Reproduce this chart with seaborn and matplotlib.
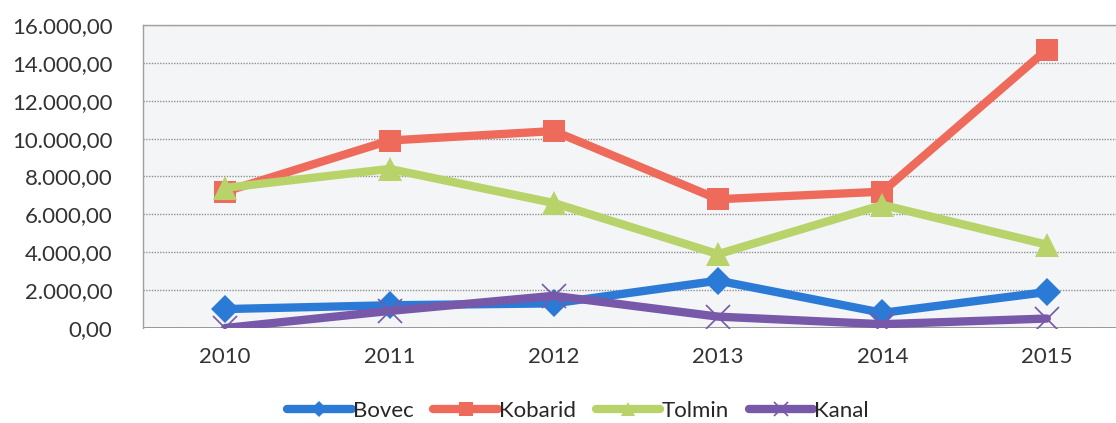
import matplotlib
matplotlib.use("Agg")
import matplotlib.pyplot as plt
import matplotlib.ticker as mticker
import numpy as np
import pandas as pd
import seaborn as sns

years = ["2010", "2011", "2012", "2013", "2014", "2015"]
bovec = [1000, 1200, 1300, 2500, 800, 1900]
kobarid = [7200, 9900, 10400, 6800, 7200, 14700]
tolmin = [7400, 8400, 6600, 3900, 6500, 4400]
kanal = [0, 900, 1700, 600, 200, 500]

series = {"Bovec": bovec, "Kobarid": kobarid, "Tolmin": tolmin, "Kanal": kanal}
colors = {"Bovec": "#2b7bd6", "Kobarid": "#ee6b5c", "Tolmin": "#b8d36a", "Kanal": "#7858a8"}
markers = {"Bovec": "D", "Kobarid": "s", "Tolmin": "^", "Kanal": "x"}
msizes = {"Bovec": 14, "Kobarid": 16, "Tolmin": 17, "Kanal": 17}

sns.set_theme(style="white")
plt.rcParams["font.family"] = ["Lato", "DejaVu Sans"]

fig = plt.figure(figsize=(11.16, 4.23), dpi=100)
ax = fig.add_axes([143 / 1116, 1 - 328 / 423, (1129 - 143) / 1116, (328 - 25) / 423])
ax.set_facecolor("#f4f5f7")

for name, vals in series.items():
    d = pd.DataFrame({"Leto": range(len(years)), "Vrednost": vals})
    sns.lineplot(data=d, x="Leto", y="Vrednost", color=colors[name], marker=markers[name],
                 markersize=msizes[name], markeredgewidth=1.2 if name == "Kanal" else 0,
                 markeredgecolor=colors[name], linewidth=6, label=name, ax=ax)

ax.set_xlim(-0.5, len(years) - 0.5)
ax.set_ylim(0, 16000)
ax.set_xticks(range(len(years)))
ax.set_xticklabels(years)
ax.set_yticks(np.arange(0, 16001, 2000))
ax.yaxis.set_major_formatter(mticker.FuncFormatter(
    lambda v, _: f"{v:,.2f}".replace(",", "X").replace(".", ",").replace("X", ".")))
ax.yaxis.grid(True, color="#909090", linestyle=(0, (1, 1)), linewidth=1.0)
ax.set_axisbelow(True)
for side in ["right", "bottom"]:
    ax.spines[side].set_visible(False)
for side in ["left", "top"]:
    ax.spines[side].set_color("#a0a0a0")
    ax.spines[side].set_linestyle((0, (1, 1)))
    ax.spines[side].set_linewidth(1.0)
ax.axhline(0, color="#8a8a8a", linewidth=1.2, zorder=1)
ax.set_xlabel("")
ax.set_ylabel("")
ax.tick_params(axis="both", colors="#333333", length=0)
ax.tick_params(axis="y", labelsize=16, pad=22)
ax.tick_params(axis="x", labelsize=16, pad=14)

handles, labels = ax.get_legend_handles_labels()
ax.legend(handles, labels, loc="center", bbox_to_anchor=(578 / 1116, 1 - 411 / 423),
          bbox_transform=fig.transFigure, ncol=4, frameon=False, fontsize=16,
          handlelength=2.9, handletextpad=0.05, columnspacing=0.9, markerscale=0.6)

fig.savefig("out.png", dpi=100)
